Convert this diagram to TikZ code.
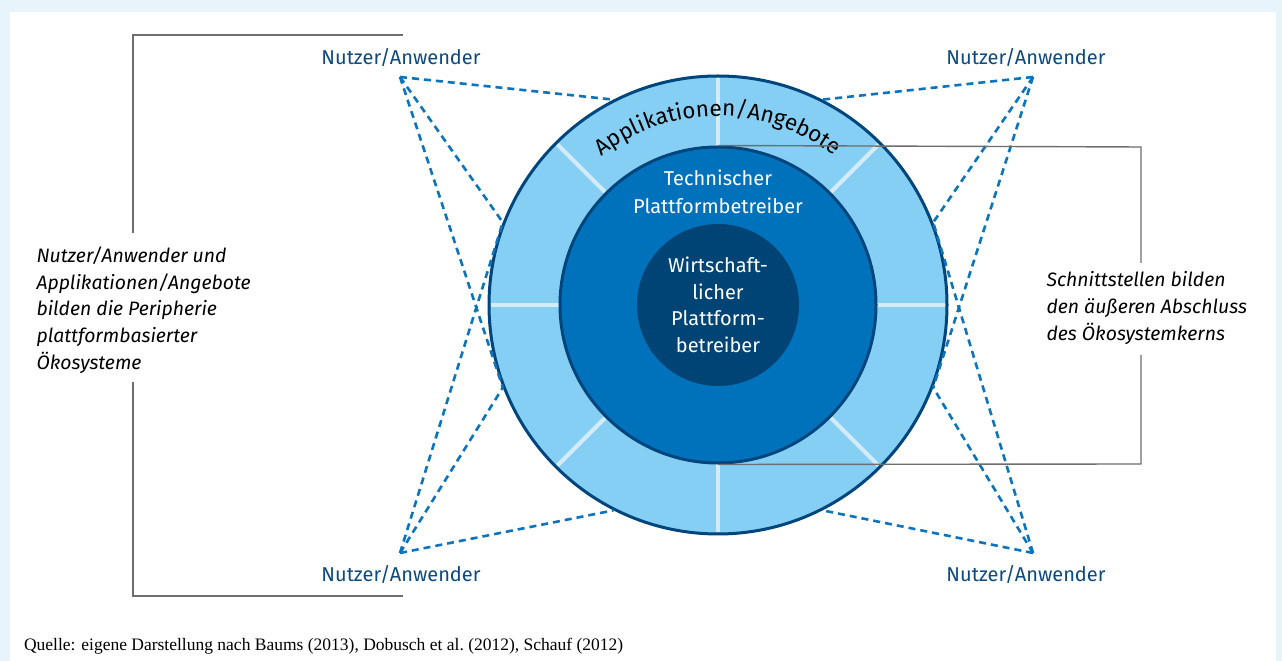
\documentclass[tikz,border=0pt]{standalone}
\usepackage{fontspec}
\setmainfont{Fira Sans}
\newfontfamily\quellefont{Liberation Serif}
\usetikzlibrary{decorations.text}
\definecolor{hintergrund}{HTML}{E8F4FC}
\definecolor{ring}{HTML}{85CFF4}
\definecolor{technik}{HTML}{0072BB}
\definecolor{kern}{HTML}{004476}
\definecolor{rand}{HTML}{00467C}
\definecolor{steg}{HTML}{D4ECF9}
\definecolor{strich}{HTML}{0B74BC}
\definecolor{nutzerblau}{HTML}{0C4A80}
\definecolor{grau}{HTML}{6E6E6E}
\newcommand\appfont{\fontsize{22.5}{22.5}\selectfont}
\begin{document}
\begin{tikzpicture}[x=1pt,y=1pt]
        % Styles
        \tikzstyle{scheibe}=[circle,inner sep=0pt,line width=3pt,draw=rand]
        \tikzstyle{steg}=[line width=4pt,color=steg]
        \tikzstyle{nutzer link}=[line width=2.6pt,color=strich,dash pattern=on 7pt off 5pt]
        \tikzstyle{klammer}=[line width=1.4pt,color=grau]
        \tikzstyle{nutzer}=[anchor=base,text=nutzerblau,font=\fontsize{20}{20}\selectfont]
        \tikzstyle{hinweis}=[anchor=west,align=left,font=\itshape\fontsize{19.4}{26.7}\selectfont]
        \tikzstyle{weiss text}=[text=white,align=center,font=\fontsize{20}{28}\selectfont]
        %background
        \fill[hintergrund] (0,0) rectangle (1282,661);
        \fill[white] (10,0) rectangle (1276,649);
        \useasboundingbox (0,0) rectangle (1282,661);
        %circles
        \node[scheibe,minimum size=458pt,fill=ring] (ring) at (718,356) {};
        \foreach \a in {0,45,...,315}
            \draw[steg] ([shift={(\a:158)}]ring.center) -- ([shift={(\a:227)}]ring.center);
        \node[scheibe,minimum size=316pt,fill=technik] (technik) at (ring.center) {};
        \node[circle,inner sep=0pt,minimum size=162pt,fill=kern,style=weiss text,font=\fontsize{20}{26.5}\selectfont] (kern) at (ring.center) {Wirtschaft-\\licher\\Plattform-\\betreiber};
        \node[weiss text] (technik text) at (718,469) {Technischer\\Plattformbetreiber};
        \path[decorate,decoration={text along path,text align=center,text={|\appfont|Applikationen/Angebote}}]
            ([shift={(150:189)}]ring.center) arc[start angle=150,end angle=30,radius=189];
        %users
        \node[nutzer] (nutzer ol) at (401,596) {Nutzer/Anwender};
        \node[nutzer] (nutzer or) at (1026,596) {Nutzer/Anwender};
        \node[nutzer] (nutzer ul) at (401,79) {Nutzer/Anwender};
        \node[nutzer] (nutzer ur) at (1026,79) {Nutzer/Anwender};
        \coordinate (ol) at (400,584);
        \coordinate (or) at (1033,584);
        \coordinate (ul) at (400,108);
        \coordinate (ur) at (1033,108);
        \foreach \p/\a in {ol/117,ol/159,ol/201,ul/243,ul/201,ul/159,or/63,or/21,or/339,ur/297,ur/339,ur/21}
            \draw[nutzer link] (\p) -- (ring.\a);
        %brackets
        \node[hinweis] (peripherie) at (33,351) {Nutzer/Anwender und\\Applikationen/Angebote\\bilden die Peripherie\\plattformbasierter\\Ökosysteme};
        \node[hinweis] (schnitt) at (1043,353) {Schnittstellen bilden\\den äußeren Abschluss\\des Ökosystemkerns};
        \coordinate (lo) at (133,626);
        \coordinate (lu) at (133,65);
        \coordinate (ro) at (1141,514);
        \coordinate (ru) at (1141,197);
        \draw[klammer] (403,626) -- (lo) -- (133,428);
        \draw[klammer] (133,279) -- (lu) -- (403,65);
        \draw[klammer] (technik.north) -- (ro) -- (1141,398);
        \draw[klammer] (1141,306) -- (ru) -- (technik.south);
        %source
        \node[anchor=base west,font=\quellefont\fontsize{17.5}{17.5}\selectfont] (quelle) at (20.5,10) {Quelle: eigene Darstellung nach Baums (2013), Dobusch et al.\ (2012), Schauf (2012)};
\end{tikzpicture}
\end{document}
